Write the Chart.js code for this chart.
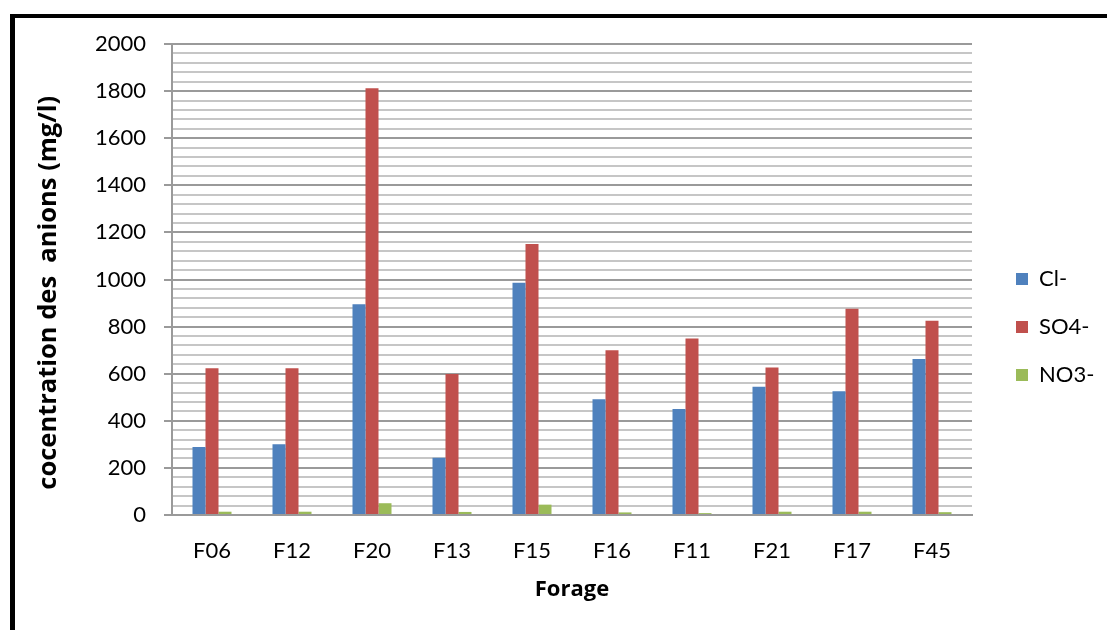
<!DOCTYPE html>
<html>
<head>
<meta charset="utf-8">
<script src="https://cdn.jsdelivr.net/npm/chart.js@4.4.1/dist/chart.umd.min.js"></script>
<style>
  html, body { margin: 0; padding: 0; background: #fff; overflow: hidden; }
  #wrap { position: relative; width: 1107px; height: 630px; }
  #chart { position: absolute; left: 0; top: 0; }
  #frame {
    position: absolute; left: 10px; top: 14px; width: 1120px; height: 640px;
    border-top: 4px solid #000; border-left: 5px solid #000; pointer-events: none;
  }
</style>
</head>
<body>
<div id="wrap">
  <canvas id="chart" width="1107" height="630"></canvas>
  <div id="frame"></div>
</div>
<script>
// Anion concentrations per borehole (mg/l)
const forages = ['F06', 'F12', 'F20', 'F13', 'F15', 'F16', 'F11', 'F21', 'F17', 'F45'];
const chlorures = [289, 300, 895, 243, 986, 491, 450, 545, 525, 662];
const sulfates = [623, 623, 1812, 599, 1151, 700, 749, 626, 876, 825];
const nitrates = [14, 14, 50, 13, 44, 11, 8, 14, 14, 12];
const seriesNames = ['Cl-', 'SO4-', 'NO3-'];
const seriesColors = ['#4F81BD', '#C0504D', '#9BBB59'];

const FONT = 'Lato';
const TITLE_FONT = 'Open Sans';
const majorStep = 200;
const plotRight = 972;

const chart = new Chart(document.getElementById('chart'), {
  type: 'bar',
  data: {
    labels: forages,
    datasets: [chlorures, sulfates, nitrates].map((vals, i) => ({
      label: seriesNames[i],
      data: vals,
      backgroundColor: seriesColors[i],
      borderWidth: 0,
      categoryPercentage: 0.4875,
      barPercentage: 1.0
    }))
  },
  options: {
    responsive: false,
    animation: false,
    devicePixelRatio: 1,
    layout: { padding: { top: 44, bottom: 20, left: 0, right: 20 } },
    plugins: {
      tooltip: { enabled: false },
      legend: {
        position: 'right',
        align: 'center',
        labels: {
          color: '#000',
          font: { family: FONT, size: 22 },
          boxWidth: 12,
          boxHeight: 12,
          padding: 26
        }
      }
    },
    scales: {
      x: {
        grid: { display: false, drawTicks: false },
        border: { display: true, color: '#9a9a9a', width: 2 },
        ticks: { color: '#000', font: { family: FONT, size: 22 }, padding: 23, autoSkip: false, maxRotation: 0 },
        title: {
          display: true, text: 'Forage', color: '#000',
          font: { family: TITLE_FONT, size: 22, weight: 'bold' },
          padding: { top: 0, bottom: 7 }
        },
        afterFit: s => { s.width = s.width; s.height = 95; }
      },
      y: {
        min: 0, max: 2000,
        grid: {
          color: c => (c.tick && c.tick.value % majorStep === 0) ? '#9a9a9a' : '#c6c6c6',
          lineWidth: 2,
          tickLength: 8,
          tickColor: c => (c.tick && c.tick.value % majorStep === 0) ? '#9a9a9a' : 'rgba(0,0,0,0)',
          tickWidth: 2
        },
        border: { display: true, color: '#9a9a9a', width: 2 },
        ticks: {
          stepSize: 40,
          maxTicksLimit: 100,
          autoSkip: false,
          padding: 18,
          color: '#000',
          font: { family: FONT, size: 22 },
          callback: v => (v % majorStep === 0 ? String(v) : '')
        },
        title: {
          display: true,
          // trailing spaces sit the title a little below the plot's middle
          text: 'cocentration des  anions (mg/l)    ',
          color: '#000',
          font: { family: TITLE_FONT, size: 25.5, weight: 'bold' },
          padding: { top: 33, bottom: 0 }
        },
        afterFit: s => { s.width = 172; }
      },
      legendGap: {
        type: 'linear',
        position: 'right',
        display: true,
        grid: { display: false, drawTicks: false },
        border: { display: false },
        ticks: { display: false },
        afterFit: s => { s.width = 18; }
      }
    }
  }
});

// keep the plot's right edge fixed whatever width the legend needs
const shift = chart.chartArea.right - plotRight;
if (Math.abs(shift) > 0.5) {
  chart.options.layout.padding.right += shift;
  chart.update();
}
</script>
</body>
</html>
